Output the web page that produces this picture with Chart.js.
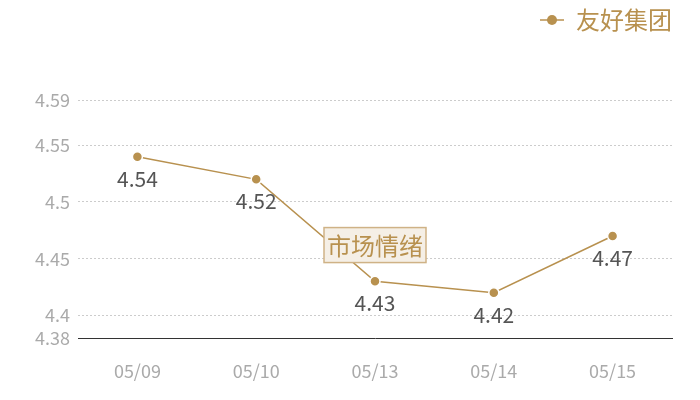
<!DOCTYPE html>
<html>
<head>
<meta charset="utf-8">
<script src="https://cdn.jsdelivr.net/npm/chart.js@4"></script>
<style>
  html, body { margin: 0; padding: 0; background: #fff; }
  #wrap { width: 700px; height: 400px; }
</style>
</head>
<body>
<div id="wrap"><canvas id="chart" width="700" height="400"></canvas></div>
<script>
const categories = ['05/09', '05/10', '05/13', '05/14', '05/15'];
const seriesName = '友好集团';
const values = [4.54, 4.52, 4.43, 4.42, 4.47];
const yTicks = [4.38, 4.4, 4.45, 4.5, 4.55, 4.59];
const noteText = '市场情绪';
const noteCategory = '05/13';
const noteValue = 4.462;

const gold = '#b8914f';
const font = '"Noto Sans CJK SC", "Noto Sans", sans-serif';

// legend marker: short line with a dot
const marker = document.createElement('canvas');
marker.width = 24; marker.height = 12;
(function () {
  const c = marker.getContext('2d');
  c.strokeStyle = gold; c.lineWidth = 1.5;
  c.beginPath(); c.moveTo(0, 6); c.lineTo(24, 6); c.stroke();
  c.fillStyle = gold;
  c.beginPath(); c.arc(12, 6, 5, 0, Math.PI * 2); c.fill();
})();

const extras = {
  id: 'extras',
  beforeLayout(chart) {
    const lg = chart.legend;
    if (lg && !lg._patched) {
      const f = lg.fit;
      lg.fit = function () { f.call(this); this.height = 92; };
      lg._patched = true;
    }
  },
  afterDatasetsDraw(chart) {
    const ctx = chart.ctx;
    const meta = chart.getDatasetMeta(0);
    ctx.save();
    ctx.font = '21px ' + font;
    ctx.fillStyle = '#555';
    ctx.textAlign = 'center';
    ctx.textBaseline = 'middle';
    meta.data.forEach((pt, i) => {
      ctx.fillText(String(values[i]), pt.x, pt.y + 22);
    });
    // note box
    const x = chart.scales.x.getPixelForValue(categories.indexOf(noteCategory));
    const y = chart.scales.y.getPixelForValue(noteValue);
    ctx.font = '24px ' + font;
    const w = ctx.measureText(noteText).width + 6;
    const h = 35;
    ctx.fillStyle = '#f5efe6';
    ctx.fillRect(x - w / 2, y - h / 2, w, h);
    ctx.strokeStyle = '#cfb286';
    ctx.lineWidth = 1.5;
    ctx.strokeRect(x - w / 2, y - h / 2, w, h);
    ctx.fillStyle = gold;
    ctx.fillText(noteText, x, y + 1);
    ctx.restore();
  }
};

new Chart(document.getElementById('chart'), {
  type: 'line',
  data: {
    labels: categories,
    datasets: [{
      label: seriesName,
      data: values,
      borderColor: gold,
      borderWidth: 1.5,
      backgroundColor: gold,
      pointBackgroundColor: gold,
      pointBorderColor: '#fff',
      pointBorderWidth: 1.5,
      pointRadius: 5,
      tension: 0,
      fill: false
    }]
  },
  options: {
    responsive: false,
    animation: false,
    layout: { padding: { left: 0, right: 28, top: 8, bottom: 0 } },
    plugins: {
      legend: {
        position: 'top',
        align: 'end',
        labels: {
          usePointStyle: true,
          pointStyle: marker,
          color: gold,
          font: { size: 24, family: font },
          padding: 0
        }
      },
      tooltip: { enabled: false }
    },
    scales: {
      x: {
        offset: true,
        grid: { display: false },
        border: { display: true, color: '#333', width: 1 },
        ticks: { color: '#aaa', font: { size: 18, family: font }, padding: 14 },
        afterFit(s) { s.height = 62; }
      },
      y: {
        min: 4.38,
        max: 4.59,
        afterBuildTicks(s) { s.ticks = yTicks.map(v => ({ value: v })); },
        border: { display: false },
        grid: {
          color: c => c.tick && c.tick.value === 4.38 ? 'rgba(0,0,0,0)' : '#cccccc',
          tickLength: 0,
          drawTicks: false
        },
        ticks: {
          color: '#aaa',
          font: { size: 18, family: font },
          padding: 8,
          callback: v => String(v)
        },
        afterFit(s) { s.width = 78; }
      }
    }
  },
  plugins: [extras, {
    id: 'dashgrid',
    beforeDraw(chart) {
      chart.scales.y.options.border.dash = [2, 2];
    }
  }]
});
</script>
</body>
</html>
